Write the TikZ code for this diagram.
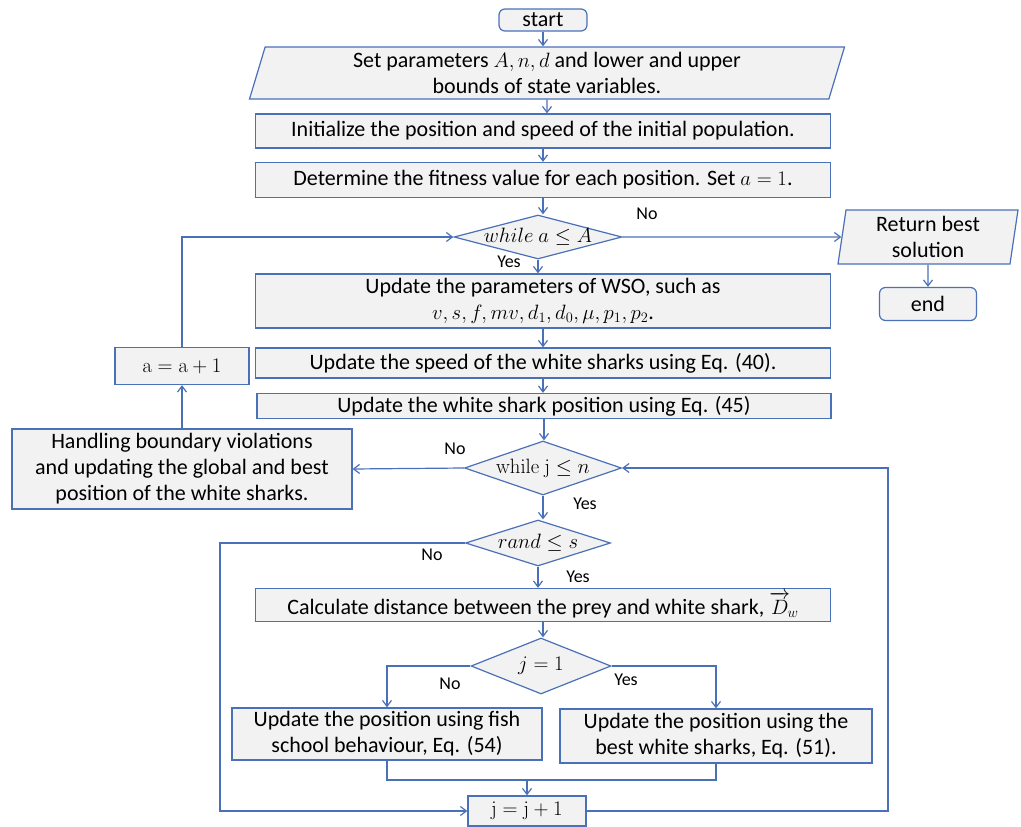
\documentclass[tikz,border=0pt]{standalone}
\usepackage{amsmath}
\usepackage[no-math]{fontspec}
\setmainfont{Carlito}
\usetikzlibrary{shapes.geometric,arrows.meta}
\definecolor{wsoblue}{HTML}{4A70B8}
\definecolor{wsogray}{HTML}{F2F2F2}

\begin{document}
\begin{tikzpicture}[x=1pt, y=-1pt,
    every node/.style={font=\fontsize{22}{26}\selectfont},
    box/.style={draw=wsoblue, fill=wsogray, line width=1.2pt, inner sep=2pt, align=center},
    term/.style={box, rounded corners=6pt},
    io/.style={box, trapezium, trapezium left angle=#1, trapezium right angle=180-#1,
        trapezium stretches body},
    cond/.style={box, diamond, aspect=4, inner xsep=-25pt, inner ysep=-6pt},
    lbl/.style={font=\fontsize{18}{20}\selectfont},
    arr/.style={draw=wsoblue, line width=1.2pt, -{Straight Barb[length=6pt,width=9pt]}},
    ln/.style={draw=wsoblue, line width=1.2pt}]
    \useasboundingbox (0,0) rectangle (1021,827);
    % main column
    \node[term, minimum width=88pt, minimum height=22pt] (start) at (543,20) {start};
    \node[io=71, minimum width=595pt, minimum height=52pt] (params) at (547,73)
        {Set parameters $A, n, d$ and lower and upper\\bounds of state variables.};
    \node[box, minimum width=575pt, minimum height=34pt] (init) at (543,131)
        {Initialize the position and speed of the initial population.};
    \node[box, minimum width=575pt, minimum height=35pt] (fit) at (543,180)
        {Determine the fitness value for each position. Set $a = 1$.};
    \node[cond, minimum width=168pt, minimum height=44pt] (whilea) at (538,237)
        {$while\ a \leq A$};
    \node[io=80, minimum width=180pt, minimum height=54pt] (ret) at (928,237)
        {Return best\\solution};
    \node[term, minimum width=97pt, minimum height=33pt] (stop) at (928,304) {end};
    \node[box, minimum width=575pt, minimum height=54pt] (upd) at (543,301)
        {Update the parameters of WSO, such as\\$v, s, f, mv, d_1, d_0, \mu, p_1, p_2$.};
    \node[box, minimum width=575pt, minimum height=30pt] (speed) at (543,363)
        {Update the speed of the white sharks using Eq. (40).};
    \node[box, minimum width=574pt, minimum height=25pt] (pos) at (544,406)
        {Update the white shark position using Eq. (45)};
    \node[cond, minimum width=157pt, minimum height=54pt] (whilej) at (543,468)
        {$\mathrm{while\ j} \leq n$};
    \node[cond, minimum width=145pt, minimum height=46pt] (rand) at (538,543)
        {$rand \leq s$};
    \node[box, minimum width=575pt, minimum height=33pt] (calc) at (543,605)
        {Calculate distance between the prey and white shark, $\overrightarrow{D}_{\!w}$};
    \node[cond, minimum width=140pt, minimum height=56pt] (jone) at (541,666) {$j = 1$};
    \node[box, minimum width=310pt, minimum height=52pt] (fish) at (387,734)
        {Update the position using fish\\school behaviour, Eq. (54)};
    \node[box, minimum width=312pt, minimum height=54pt] (best) at (716,736)
        {Update the position using the\\best white sharks, Eq. (51).};
    \node[box, minimum width=118pt, minimum height=30pt] (jinc) at (527,811)
        {$\mathrm{j} = \mathrm{j} + 1$};
    % left side
    \node[box, minimum width=134pt, minimum height=37pt] (ainc) at (182,366)
        {$\mathrm{a} = \mathrm{a} + 1$};
    \node[box, minimum width=340pt, minimum height=80pt] (handle) at (182,469)
        {Handling boundary violations\\and updating the global and best\\position of the white sharks.};
    \coordinate (lp) at (220,543);
    \coordinate (rp) at (888,811);
    \coordinate (mrg) at (527,780);
    % connectors
    \foreach \a/\b in {start/params, params/init, init/fit, fit/whilea, whilea/upd,
        upd/speed, speed/pos, pos/whilej, whilej/rand, rand/calc, calc/jone, ret/stop}
        \draw[arr] (\a) -- (\a |- \b.north);
    \draw[arr] (whilea.east) -- (ret.west);
    \draw[arr] (whilej.west) -- (handle.east);
    \draw[arr] (handle) -- (ainc);
    \draw[arr] (ainc.north) |- (whilea.west);
    \draw[arr] (rand.west) -- (lp) |- (jinc.west);
    \draw[arr] (jone.west) -| (fish.north);
    \draw[arr] (jone.east) -| (best.north);
    \draw[ln] (fish.south) |- (mrg);
    \draw[ln] (best.south) |- (mrg);
    \draw[arr] (mrg) -- (jinc.north);
    \draw[arr] (jinc.east) -- (rp) |- (whilej.east);
    % branch labels
    \node[lbl] (na) at (647,214) {No};
    \node[lbl] (ya) at (509,262) {Yes};
    \node[lbl] (nj) at (455,449) {No};
    \node[lbl] (yj) at (585,504) {Yes};
    \node[lbl] (nr) at (432,555) {No};
    \node[lbl] (yr) at (578,577) {Yes};
    \node[lbl] (no) at (450,684) {No};
    \node[lbl] (yo) at (626,680) {Yes};
\end{tikzpicture}
\end{document}
